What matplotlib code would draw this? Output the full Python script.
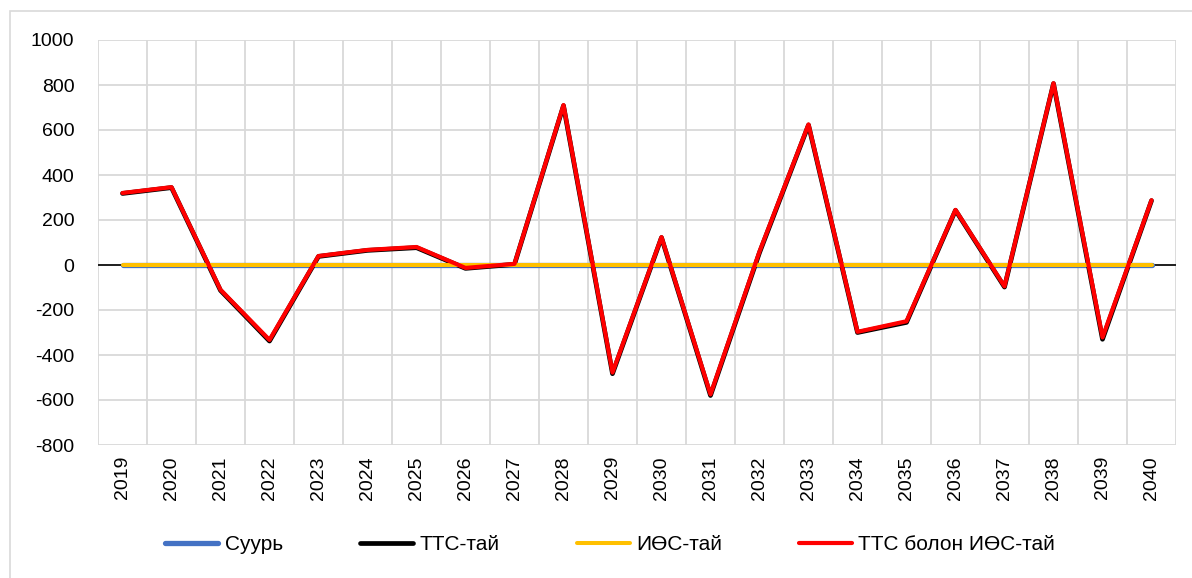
import matplotlib
matplotlib.use("Agg")
import matplotlib.pyplot as plt
from matplotlib.patches import Rectangle
from matplotlib.ticker import MultipleLocator

plt.rcParams['axes.unicode_minus'] = False

# өгөгдөл
years = [str(y) for y in range(2019, 2041)]
suur = [0] * 22
tts = [318, 344, -113, -338, 38, 65, 77, -15, 3, 708, -483, 122, -580, 55, 622, -300, -255, 243, -98, 806, -330, 286]
ios = [0] * 22
tts_ios = [320, 346, -110, -333, 40, 67, 80, -13, 5, 711, -478, 124, -575, 60, 625, -297, -250, 245, -95, 808, -322, 288]

fig = plt.figure(figsize=(11.92, 5.78), dpi=100)
ax = fig.add_axes([98 / 1192, 1 - 445 / 578, (1176 - 98) / 1192, (445 - 40) / 578])

x = list(range(len(years)))

# гадна хүрээ
fig.patches.append(Rectangle((10 / 1192, -0.05), 1.1, 1 - 11 / 578 + 0.05,
                             transform=fig.transFigure, fill=False,
                             edgecolor='#d9d9d9', lw=1.2))

ax.axhline(0, color='black', lw=1.2, zorder=2)
l1, = ax.plot(x, suur, color='#4472C4', lw=3.8, solid_capstyle='round', zorder=3, label='Суурь')
l2, = ax.plot(x, tts, color='black', lw=3.4, solid_capstyle='round', zorder=4, label='ТТС-тай')
l3, = ax.plot(x, ios, color='#FFC000', lw=2.9, solid_capstyle='round', zorder=5, label='ИӨС-тай')
l4, = ax.plot(x, tts_ios, color='#FF0000', lw=3.0, solid_capstyle='round', zorder=6, label='ТТС болон ИӨС-тай')

ax.set_xlim(-0.5, len(years) - 0.5)
ax.set_ylim(-800, 1000)
ax.yaxis.set_major_locator(MultipleLocator(200))
ax.set_xticks(x)
ax.set_xticklabels(years, rotation=90, fontsize=14, family=['Liberation Sans', 'DejaVu Sans'])
ax.set_xticks([i - 0.5 for i in range(len(years) + 1)], minor=True)
for lab in ax.get_yticklabels():
    lab.set_family(['Liberation Sans', 'DejaVu Sans'])
    lab.set_fontsize(14)

ax.grid(True, which='minor', axis='x', color='#d9d9d9', lw=1.3)
ax.grid(True, which='major', axis='y', color='#d9d9d9', lw=1.3)
ax.tick_params(axis='both', which='both', length=0)
ax.tick_params(axis='x', pad=8)
ax.tick_params(axis='y', pad=17)
for s in ax.spines.values():
    s.set_visible(False)
ax.set_axisbelow(True)

fig.legend(handles=[l1, l2, l3, l4], loc='center', bbox_to_anchor=(0.512, 1 - 545 / 578),
           ncol=4, frameon=False, handlelength=2.55, handletextpad=0.3, columnspacing=3.7,
           prop={'family': ['Liberation Sans', 'DejaVu Sans'], 'size': 15})

plt.savefig("out.png", dpi=100)
